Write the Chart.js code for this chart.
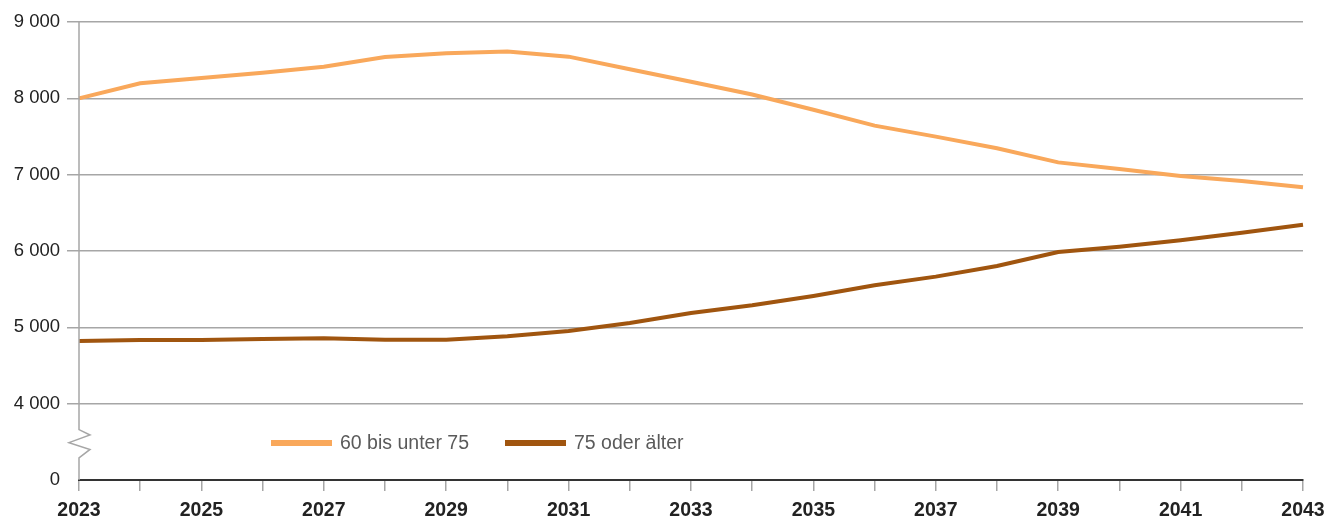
<!DOCTYPE html>
<html lang="de">
<head>
<meta charset="utf-8">
<script src="https://cdn.jsdelivr.net/npm/chart.js@4.4.1/dist/chart.umd.min.js"></script>
<style>
  html, body { margin: 0; padding: 0; background: #fff; }
  #wrap { position: relative; width: 1328px; height: 520px; }
  #legend {
    position: absolute; left: 271px; top: 431px;
    font-family: "Liberation Sans", Arial, sans-serif; font-size: 19.5px; color: #5a5a5a;
    display: flex; align-items: center;
  }
  #legend .item { display: flex; align-items: center; margin-right: 36px; }
  #legend .swatch { width: 61px; height: 6px; margin-right: 8px; }
</style>
</head>
<body>
<div id="wrap">
  <canvas id="chart" width="1328" height="520"></canvas>
  <div id="legend"></div>
</div>
<script>
const years = [
  "2023", "2024", "2025", "2026", "2027", "2028", "2029", "2030", "2031", "2032", "2033",
  "2034", "2035", "2036", "2037", "2038", "2039", "2040", "2041", "2042", "2043",
];
const age60to75 = [
  8000, 8197, 8267, 8336, 8415, 8542, 8590, 8612, 8546, 8380, 8218,
  8050, 7851, 7642, 7498, 7345, 7161, 7073, 6983, 6917, 6834,
];
const age75plus = [
  4821, 4834, 4834, 4847, 4856, 4838, 4838, 4882, 4952, 5057, 5188,
  5288, 5410, 5550, 5664, 5803, 5987, 6057, 6140, 6240, 6345,
];
const seriesNames = ["60 bis unter 75", "75 oder älter"];
const seriesColors = ["#f9a85b", "#a0550f"];

// the axis is broken: the bottom of the scale (3000) is labelled 0
const axisBase = 3000;

function formatThousands(value) {
  if (value === axisBase) return "0";
  return String(value).replace(/\B(?=(\d{3})+(?!\d))/g, " ");
}

const axisBreak = {
  id: "axisBreak",
  afterDraw(chart) {
    const { ctx, chartArea } = chart;
    const y = chart.scales.y;
    const x0 = chartArea.left;
    const top = chartArea.top;
    const bottom = y.getPixelForValue(axisBase);
    const y4 = y.getPixelForValue(4000);
    const span = bottom - y4;
    ctx.save();
    ctx.strokeStyle = "#a6a6a6";
    ctx.lineWidth = 1.5;
    ctx.beginPath();
    ctx.moveTo(x0, top);
    ctx.lineTo(x0, y4 + span * 0.34);
    ctx.lineTo(x0 + 11, y4 + span * 0.41);
    ctx.lineTo(x0 - 10, y4 + span * 0.51);
    ctx.lineTo(x0 + 11, y4 + span * 0.60);
    ctx.lineTo(x0, y4 + span * 0.71);
    ctx.lineTo(x0, bottom);
    ctx.stroke();
    ctx.restore();
  },
};

new Chart(document.getElementById("chart"), {
  type: "line",
  data: {
    labels: years,
    datasets: [
      {
        label: seriesNames[0],
        data: age60to75,
        borderColor: seriesColors[0],
        borderWidth: 4,
        pointRadius: 0,
        tension: 0,
      },
      {
        label: seriesNames[1],
        data: age75plus,
        borderColor: seriesColors[1],
        borderWidth: 4,
        pointRadius: 0,
        tension: 0,
      },
    ],
  },
  options: {
    responsive: false,
    animation: false,
    layout: { padding: { left: 0, right: 25, top: 22, bottom: 0 } },
    plugins: { legend: { display: false }, tooltip: { enabled: false } },
    scales: {
      x: {
        offset: false,
        afterFit(scale) {
          scale.height = 40;
          scale.paddingLeft = 0;
          scale.paddingRight = 0;
        },
        border: { color: "#333", width: 2 },
        grid: {
          drawOnChartArea: false,
          drawTicks: true,
          tickLength: 11,
          color: "#a6a6a6",
          lineWidth: 1.5,
        },
        ticks: {
          autoSkip: false,
          maxRotation: 0,
          padding: 8,
          color: "#222",
          font: { family: "'Liberation Sans', Arial, sans-serif", size: 19.5, weight: "bold" },
          callback(value, index) {
            return index % 2 === 0 ? years[index] : "";
          },
        },
      },
      y: {
        min: axisBase,
        max: 9000,
        afterFit(scale) { scale.width = 79; },
        border: { display: false },
        grid: {
          tickLength: 12,
          color: (c) => (c.tick && c.tick.value === axisBase ? "rgba(0,0,0,0)" : "#a6a6a6"),
          lineWidth: 1.5,
        },
        ticks: {
          stepSize: 1000,
          padding: 7,
          color: "#222",
          font: { family: "'Liberation Sans', Arial, sans-serif", size: 18.5 },
          callback: (value) => formatThousands(value),
        },
      },
    },
  },
  plugins: [axisBreak],
});

const legendEl = document.getElementById("legend");
seriesNames.forEach((name, i) => {
  const item = document.createElement("div");
  item.className = "item";
  const swatch = document.createElement("span");
  swatch.className = "swatch";
  swatch.style.background = seriesColors[i];
  const text = document.createElement("span");
  text.textContent = name;
  item.appendChild(swatch);
  item.appendChild(text);
  legendEl.appendChild(item);
});
</script>
</body>
</html>
